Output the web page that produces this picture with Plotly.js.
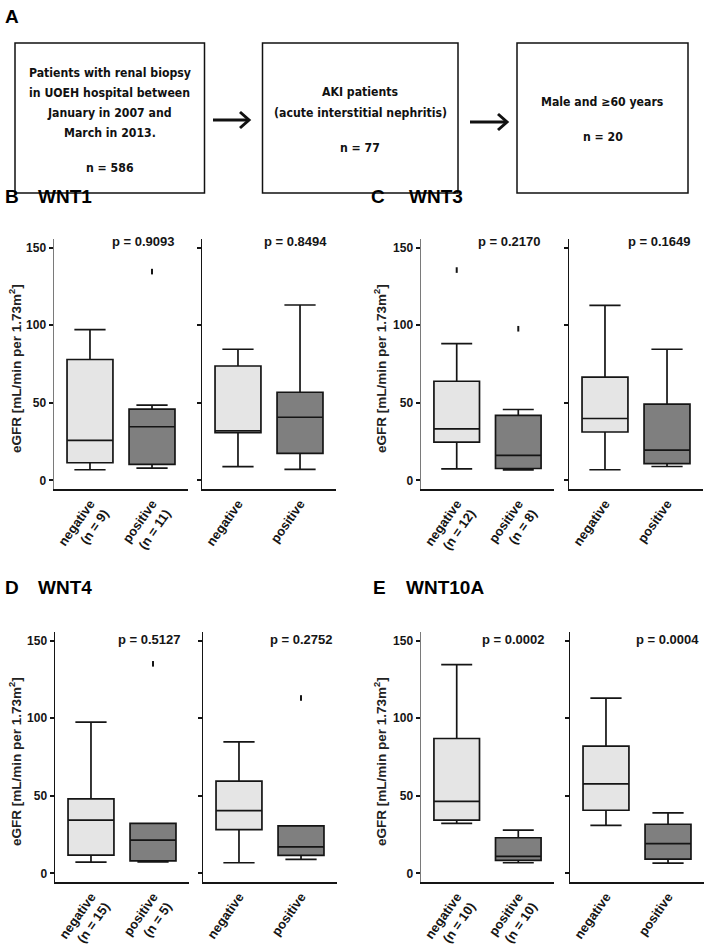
<!DOCTYPE html>
<html><head><meta charset="utf-8">
<script src="https://cdn.plot.ly/plotly-3.0.1.min.js"></script>
<style>html,body{margin:0;padding:0;background:#fff;}#chart{width:708px;height:946px;}</style>
</head><body><div id="chart"></div>
<script>
// ---------------- DATA ----------------
const flowBox1 = ['Patients with renal biopsy', 'in UOEH hospital between', 'January in 2007 and', 'March in 2013.'];
const flowBox2 = ['AKI patients', '(acute interstitial nephritis)'];
const flowBox3 = ['Male and \u226560 years'];
const flowN = ['n = 586', 'n = 77', 'n = 20'];

const genes = ['WNT1', 'WNT3', 'WNT4', 'WNT10A'];
const panelLetters = ['B', 'C', 'D', 'E'];
const groups = ['negative', 'positive'];
const nNegative = [9, 12, 15, 10];
const nPositive = [11, 8, 5, 10];
const pAll = ['0.9093', '0.2170', '0.5127', '0.0002'];
const pMale = ['0.8494', '0.1649', '0.2752', '0.0004'];
const yTicks = [0, 50, 100, 150];

// box statistics: [lower whisker, Q1, median, Q3, upper whisker]
const wnt1NegAll = [6.9, 11.4, 25.8, 77.9, 97.2];
const wnt1PosAll = [7.9, 10.4, 34.6, 46.0, 48.5];
const wnt1NegMale = [8.9, 30.8, 32.0, 73.7, 84.5];
const wnt1PosMale = [7.2, 17.5, 40.7, 56.8, 113.0];
const wnt3NegAll = [7.5, 24.7, 33.2, 63.9, 88.1];
const wnt3PosAll = [6.8, 7.7, 16.1, 41.9, 45.7];
const wnt3NegMale = [6.9, 31.2, 39.9, 66.5, 112.8];
const wnt3PosMale = [9.0, 10.9, 19.5, 49.1, 84.5];
const wnt4NegAll = [7.3, 11.8, 34.4, 48.0, 97.5];
const wnt4PosAll = [7.5, 8.1, 21.5, 32.3, 32.3];
const wnt4NegMale = [6.9, 28.2, 40.5, 59.5, 84.7];
const wnt4PosMale = [9.1, 11.7, 17.1, 30.7, 30.7];
const wnt10aNegAll = [32.3, 34.4, 46.4, 86.9, 134.5];
const wnt10aPosAll = [6.9, 8.4, 11.0, 23.0, 27.9];
const wnt10aNegMale = [31.0, 40.7, 57.7, 82.0, 112.9];
const wnt10aPosMale = [6.7, 9.2, 19.2, 31.7, 39.0];

// outliers
const wnt1PosAllOut = [134.5];
const wnt3NegAllOut = [135.5];
const wnt3PosAllOut = [97.7];
const wnt4PosAllOut = [135.0];
const wnt4PosMaleOut = [113.0];

// ---------------- LAYOUT HELPERS ----------------
const W = 708, H = 946;
const px = x => x / W;
const py = y => 1 - y / H;

const NEG_FILL = '#e5e5e5', POS_FILL = '#7f7f7f', INK = '#151515';
const FONT = 'Liberation Sans, Arial, sans-serif';
const NARROW = 'DejaVu Sans Condensed, Liberation Sans Narrow, Liberation Sans, Arial, sans-serif';

function fitSize(text, family, target) {
  const c = document.createElement('canvas').getContext('2d');
  c.font = 'bold 20px ' + family.split(',').map(s => s.trim()).map(s => s === 'sans-serif' ? s : '"' + s + '"').join(',');
  return 20 * target / c.measureText(text).width;
}
const flowSize = fitSize(flowBox1[0], NARROW, 162);

const panels = [
  {gene: 0, stats: [wnt1NegAll, wnt1PosAll, wnt1NegMale, wnt1PosMale], out: [[], wnt1PosAllOut, [], []],
   cols: [[54, 188], [202, 336]], row: [239, 489], letterX: 3, geneX: 36, titleY: 196, pRight: [177, 329], pY: 241.5, yTitleX: 15, leftLine: '#7a7a7a'},
  {gene: 1, stats: [wnt3NegAll, wnt3PosAll, wnt3NegMale, wnt3PosMale], out: [wnt3NegAllOut, wnt3PosAllOut, [], []],
   cols: [[421, 554], [569, 703]], row: [239, 489], letterX: 369, geneX: 407, titleY: 196, pRight: [543, 693], pY: 241.5, yTitleX: 380, leftLine: '#7a7a7a'},
  {gene: 2, stats: [wnt4NegAll, wnt4PosAll, wnt4NegMale, wnt4PosMale], out: [[], wnt4PosAllOut, [], wnt4PosMaleOut],
   cols: [[55, 189], [203, 337]], row: [632, 882], letterX: 3, geneX: 36, titleY: 587, pRight: [183, 335], pY: 639, yTitleX: 15, leftLine: INK},
  {gene: 3, stats: [wnt10aNegAll, wnt10aPosAll, wnt10aNegMale, wnt10aPosMale], out: [[], [], [], []],
   cols: [[421, 554], [570, 704]], row: [632, 882], letterX: 371, geneX: 404, titleY: 587, pRight: [547, 701], pY: 639, yTitleX: 380, leftLine: '#7a7a7a'}
];

const traces = [];
const layout = {
  width: W, height: H, margin: {l: 0, r: 0, t: 0, b: 0},
  paper_bgcolor: '#fff', plot_bgcolor: '#fff', showlegend: false,
  font: {family: FONT, color: INK},
  shapes: [], annotations: []
};

let axIdx = 0;
panels.forEach(p => {
  const g = p.gene;
  const catsAll = [groups[0] + '<br>(n = ' + nNegative[g] + ')', groups[1] + '<br>(n = ' + nPositive[g] + ')'];
  const catsMale = groups.slice();
  [catsAll, catsMale].forEach((cats, side) => {
    axIdx++;
    const xa = axIdx === 1 ? 'x' : 'x' + axIdx;
    const ya = axIdx === 1 ? 'y' : 'y' + axIdx;
    const xKey = axIdx === 1 ? 'xaxis' : 'xaxis' + axIdx;
    const yKey = axIdx === 1 ? 'yaxis' : 'yaxis' + axIdx;
    const col = p.cols[side];
    layout[xKey] = {
      domain: [px(col[0]), px(col[1])], anchor: ya, type: 'category',
      categoryorder: 'array', categoryarray: cats, range: [-0.58, 1.58],
      showline: true, linecolor: INK, linewidth: 2, ticks: '', showgrid: false, zeroline: false,
      tickangle: -55, tickfont: {family: FONT, size: 13, color: INK, weight: 'bold'}, fixedrange: true
    };
    layout[yKey] = {
      domain: [py(p.row[1]), py(p.row[0])], anchor: xa, range: [-5.5, 155.5],
      tickvals: yTicks, showticklabels: side === 0,
      ticks: 'outside', ticklen: 4, tickwidth: 2, tickcolor: INK,
      showline: true, linecolor: side === 0 ? p.leftLine : INK, linewidth: 1.5,
      showgrid: false, zeroline: false,
      tickfont: {family: FONT, size: 12, color: INK, weight: 'bold'}, fixedrange: true
    };
    [0, 1].forEach(k => {
      const s = p.stats[side * 2 + k];
      traces.push({
        type: 'box', x: [cats[k]], lowerfence: [s[0]], q1: [s[1]], median: [s[2]], q3: [s[3]], upperfence: [s[4]],
        fillcolor: k === 0 ? NEG_FILL : POS_FILL, line: {color: INK, width: 1.7},
        width: 0.74, whiskerwidth: 0.68, boxpoints: false, xaxis: xa, yaxis: ya, hoverinfo: 'skip', showlegend: false
      });
      const o = p.out[side * 2 + k];
      if (o.length) {
        traces.push({
          type: 'scatter', mode: 'markers', x: o.map(() => cats[k]), y: o, xaxis: xa, yaxis: ya,
          marker: {symbol: 'line-ns-open', size: 4, color: INK, line: {width: 2, color: INK}}, hoverinfo: 'skip', showlegend: false
        });
      }
    });
    layout.annotations.push({
      xref: 'paper', yref: 'paper', x: px(p.pRight[side]), y: py(p.pY), xanchor: 'right', yanchor: 'middle',
      text: 'p = ' + (side === 0 ? pAll[g] : pMale[g]), showarrow: false,
      font: {family: FONT, size: 13, color: INK, weight: 'bold'}
    });
  });
  layout.annotations.push({xref: 'paper', yref: 'paper', x: px(p.letterX), y: py(p.titleY), xanchor: 'left', yanchor: 'middle',
    text: panelLetters[g], showarrow: false, font: {family: FONT, size: 19, color: '#000', weight: 'bold'}});
  layout.annotations.push({xref: 'paper', yref: 'paper', x: px(p.geneX), y: py(p.titleY), xanchor: 'left', yanchor: 'middle',
    text: genes[g], showarrow: false, font: {family: FONT, size: 19, color: '#000', weight: 'bold'}});
  layout.annotations.push({xref: 'paper', yref: 'paper', x: px(p.yTitleX), y: py((p.row[0] + p.row[1]) / 2 + 5), xanchor: 'center', yanchor: 'middle',
    text: 'eGFR [mL/min per 1.73m<sup>2</sup>]', textangle: -90, showarrow: false, font: {family: FONT, size: 13.5, color: '#222', weight: 'bold'}});
});

// ---------------- PANEL A (flowchart) ----------------
layout.annotations.push({xref: 'paper', yref: 'paper', x: px(3), y: py(17), xanchor: 'left', yanchor: 'middle',
  text: 'A', showarrow: false, font: {family: FONT, size: 19, color: '#000', weight: 'bold'}});
const boxesA = [[15, 204.5], [262.5, 458], [517, 688]];
boxesA.forEach(b => layout.shapes.push({type: 'rect', xref: 'paper', yref: 'paper', x0: px(b[0]), x1: px(b[1]), y0: py(193), y1: py(43),
  line: {color: '#111', width: 1.5}, fillcolor: 'rgba(0,0,0,0)'}));
const flowFont = {family: NARROW, size: flowSize, color: '#111', weight: 'bold'};
const addLine = (t, x, y) => layout.annotations.push({xref: 'paper', yref: 'paper', x: px(x), y: py(y), xanchor: 'center', yanchor: 'middle', text: t, showarrow: false, font: flowFont});
const cx = boxesA.map(b => (b[0] + b[1]) / 2);
[73, 93.5, 113, 133].forEach((y, i) => addLine(flowBox1[i], cx[0], y));
[92, 113.5].forEach((y, i) => addLine(flowBox2[i], cx[1], y));
addLine(flowBox3[0], cx[2], 102);
[168, 148, 137].forEach((y, i) => addLine(flowN[i], cx[i], y));
// arrows as shapes
[[213, 249, 120], [470, 507, 122]].forEach(a => {
  layout.shapes.push({type: 'line', xref: 'paper', yref: 'paper', x0: px(a[0]), x1: px(a[1] - 1.5), y0: py(a[2]), y1: py(a[2]),
    line: {color: '#111', width: 3}});
  const path = 'M' + px(a[1] - 9) + ',' + py(a[2] - 8) + ' L' + px(a[1]) + ',' + py(a[2]) + ' L' + px(a[1] - 9) + ',' + py(a[2] + 8);
  layout.shapes.push({type: 'path', xref: 'paper', yref: 'paper', path: path, line: {color: '#111', width: 3}});
});

Plotly.newPlot('chart', traces, layout, {staticPlot: true, displayModeBar: false});
</script>
</body></html>
